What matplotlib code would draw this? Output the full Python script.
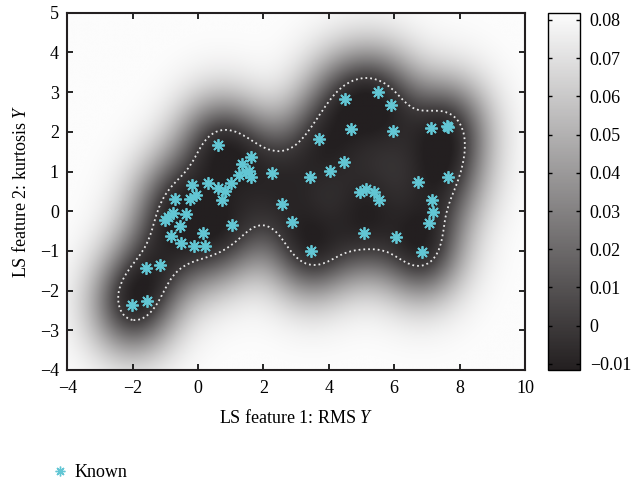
import numpy as np
import matplotlib
matplotlib.use("Agg")
import matplotlib.pyplot as plt
from matplotlib.colors import LinearSegmentedColormap
from matplotlib.lines import Line2D

plt.rcParams['font.family'] = ['Liberation Serif', 'DejaVu Serif']
plt.rcParams['mathtext.fontset'] = 'custom'
plt.rcParams['mathtext.rm'] = 'Liberation Serif'
plt.rcParams['mathtext.it'] = 'Liberation Serif:italic'

# known samples (LS feature 1, LS feature 2)
known_x = [0.62, 1.62, 1.34, 1.55, 1.24, 1.62, 1.47, 2.26, -0.19, 0.31, 0.60, 0.83,
           1.01, -0.06, -0.70, -0.25, 0.73, 3.71, 4.49, 5.51, 5.90, 4.68, 5.97, 7.12,
           7.61, 7.66, 4.47, 4.04, 3.43, 6.74, 7.65, 4.95, 5.15, 5.37, 5.54, 7.16,
           2.57, 7.19, 7.07, -0.78, -0.93, -1.00, -0.37, -0.56, 1.04, 2.87, -0.83,
           0.14, -0.52, -0.11, 0.20, 5.09, 6.05, 3.46, 6.85, -1.59, -1.16, -2.02, -1.57]
known_y = [1.68, 1.37, 1.20, 1.02, 0.91, 0.86, 0.99, 0.97, 0.67, 0.70, 0.59, 0.51,
           0.70, 0.42, 0.30, 0.30, 0.29, 1.81, 2.83, 3.00, 2.67, 2.07, 2.02, 2.10,
           2.14, 2.12, 1.24, 1.02, 0.86, 0.74, 0.86, 0.49, 0.57, 0.49, 0.29, 0.29,
           0.18, -0.03, -0.29, -0.04, -0.14, -0.23, -0.06, -0.37, -0.35, -0.27, -0.63,
           -0.55, -0.80, -0.87, -0.87, -0.56, -0.65, -1.00, -1.02, -1.42, -1.36, -2.37, -2.26]

xlim = (-4, 10)
ylim = (-4, 5)
cticks = [-0.01, 0, 0.01, 0.02, 0.03, 0.04, 0.05, 0.06, 0.07, 0.08]
clim = (-0.0116, 0.0819)

px = np.array(known_x)
py = np.array(known_y)


def proj_simplex(v):
    u = np.sort(v)[::-1]
    css = np.cumsum(u)
    k = np.arange(1, len(v) + 1)
    rho = np.nonzero(u * k > (css - 1))[0][-1]
    th = (css[rho] - 1) / (rho + 1.0)
    return np.maximum(v - th, 0)


# support vector data description with a gaussian kernel
sigma = 0.85
D2 = (px[:, None] - px[None, :]) ** 2 + (py[:, None] - py[None, :]) ** 2
Km = np.exp(-D2 / (2 * sigma ** 2))
lam = np.linalg.eigvalsh(Km).max()
alpha = np.ones(len(px)) / len(px)
for _ in range(6000):
    alpha = proj_simplex(alpha - Km @ alpha / lam)

gx = np.linspace(xlim[0], xlim[1], 500)
gy = np.linspace(ylim[0], ylim[1], 400)
X, Y = np.meshgrid(gx, gy)
g = np.zeros_like(X)
for a, b, w in zip(px, py, alpha):
    g += w * np.exp(-((X - a) ** 2 + (Y - b) ** 2) / (2 * sigma ** 2))
g_sv = np.median((Km @ alpha)[alpha > 1e-4])
g_c = 0.84 * g_sv
F = 0.082 * (1 - (g / g_c) ** 0.9)
F = np.where(F < 0, 0.6 * F, F)

cmap = LinearSegmentedColormap.from_list('gr', ['#231f20', '#fcfcfc'])

fig = plt.figure(figsize=(6.34, 4.83), dpi=100)
ax = fig.add_axes([67.3 / 634, 1 - 370 / 483, (525 - 67.3) / 634, (370 - 12.7) / 483])
cax = fig.add_axes([547.7 / 634, 1 - 370 / 483, (580 - 547.7) / 634, (370 - 12.7) / 483])

im = ax.imshow(F, extent=[xlim[0], xlim[1], ylim[0], ylim[1]], origin='lower',
               cmap=cmap, vmin=clim[0], vmax=clim[1], aspect='auto', interpolation='bilinear')
ax.contour(X, Y, F, levels=[0], colors='#e8e8e8', linestyles=':', linewidths=1.3)
ax.plot(px, py, linestyle='none', marker=(8, 2, 0), markersize=9, mew=1.3,
        color='#62c6d4')

ax.set_xlim(xlim)
ax.set_ylim(ylim)
ax.set_xticks(range(-4, 11, 2))
ax.set_yticks(range(-4, 6))
ax.set_xticklabels(['\u22124', '\u22122', '0', '2', '4', '6', '8', '10'])
ax.set_yticklabels(['\u22124', '\u22123', '\u22122', '\u22121', '0', '1', '2', '3', '4', '5'])
ax.tick_params(direction='in', top=True, right=True, labelsize=13, length=4, width=1.2)
ax.tick_params(axis='x', pad=7)
ax.tick_params(axis='y', pad=6)
for s in ax.spines.values():
    s.set_linewidth(1.5)
    s.set_color('#231f20')
ax.set_xlabel('LS feature 1: RMS $\\mathit{Y}$', fontsize=13, labelpad=9)
ax.set_ylabel('LS feature 2: kurtosis $\\mathit{Y}$', fontsize=13, labelpad=7)

cb = fig.colorbar(im, cax=cax)
cb.set_ticks(cticks)
cb.set_ticklabels(['\u22120.01', '0', '0.01', '0.02', '0.03', '0.04', '0.05', '0.06', '0.07', '0.08'])
cax.tick_params(direction='in', left=True, right=True, labelsize=13, length=3, width=1, pad=7)
cb.outline.set_linewidth(1)

handle = Line2D([], [], linestyle='none', marker=(8, 2, 0), markersize=7, mew=1.0,
                color='#62c6d4')
fig.legend([handle], ['Known'], loc='center left', bbox_to_anchor=(0.055, 0.022),
           frameon=False, fontsize=13, handletextpad=0.3, handlelength=1.0)

fig.savefig('out.png', dpi=100)
